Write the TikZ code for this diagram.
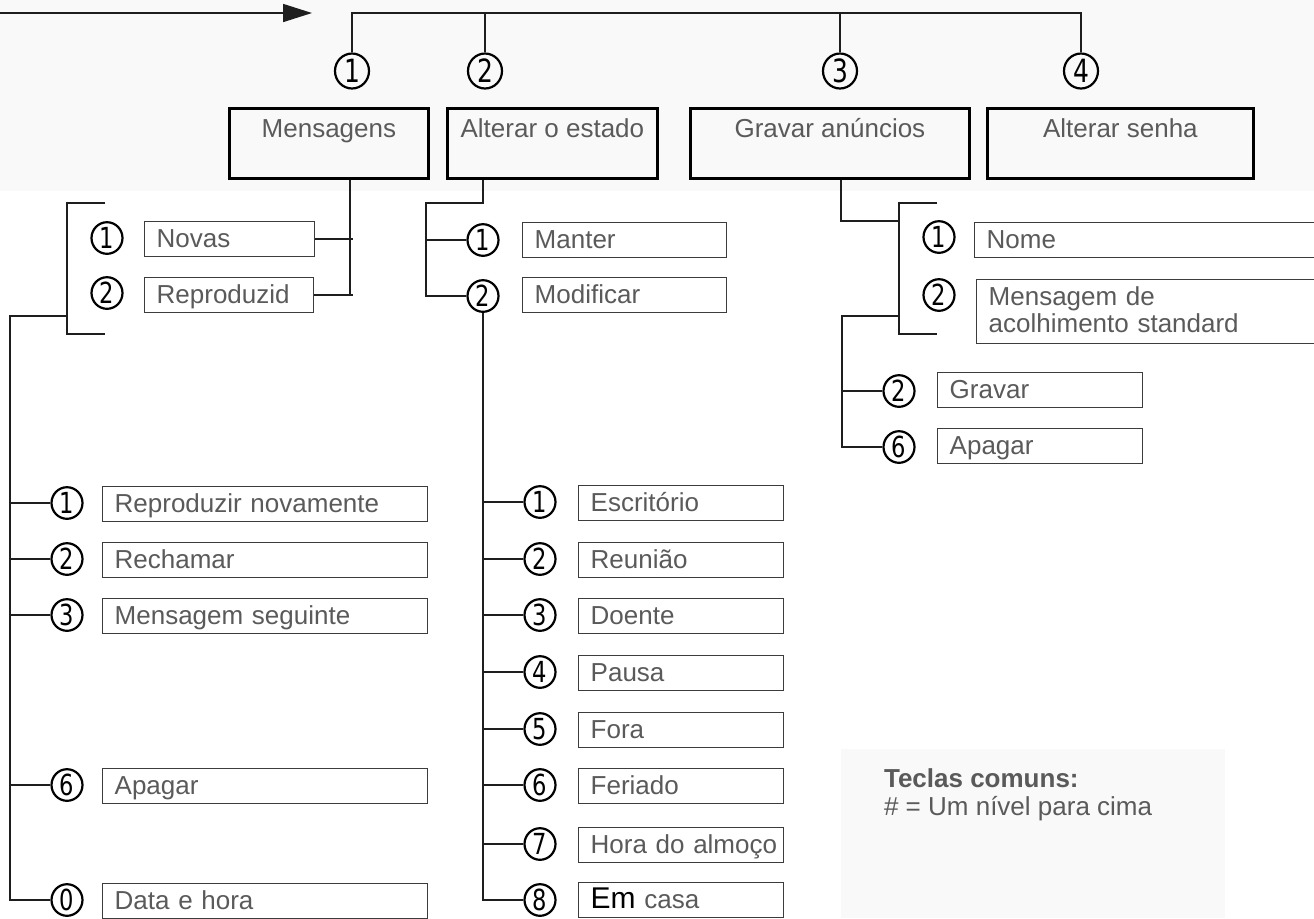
\documentclass[tikz,border=0pt]{standalone}
\usepackage{graphicx}
\usepackage{fontspec}
\setmainfont{Liberation Sans}
\newfontfamily\numfont{DejaVu Sans}
\usetikzlibrary{shapes.geometric,arrows.meta}
\definecolor{bandgray}{HTML}{F9F9F9}
\definecolor{txtgray}{HTML}{5A5A5A}
\definecolor{boxline}{HTML}{3C3C3C}
\definecolor{linec}{HTML}{1E1E1E}
\newcommand\dg[1]{\scalebox{0.78}[1]{#1}}
\begin{document}
\begin{tikzpicture}[x=0.5pt,y=-0.5pt,
  conn/.style={draw=linec,line width=0.8pt},
  topbox/.style={draw=black,line width=1.4pt,anchor=north west,inner xsep=0pt,inner ysep=0pt,
    minimum width=#1,text height=14.5pt,text depth=20.5pt,text=txtgray,font=\fontsize{13}{15}\selectfont},
  item/.style={draw=boxline,line width=0.7pt,anchor=north west,inner xsep=6pt,inner ysep=0pt,
    text width=#1,align=left,text height=13pt,text depth=4.5pt,text=txtgray,font=\fontsize{13}{13.5}\selectfont},
  num/.style={ellipse,draw=black,line width=1.1pt,minimum width=15.5pt,minimum height=15.8pt,
    inner sep=0pt,font=\numfont\fontsize{14.5}{14.5}\selectfont},
  bignum/.style={num,minimum width=17pt,minimum height=17.5pt,font=\numfont\fontsize{16}{16}\selectfont}]
\useasboundingbox (0,0) rectangle (1314,918);
\fill[white] (0,0) rectangle (1314,918);
\fill[bandgray] (0,0) rectangle (1314,191);
\fill[bandgray] (841,749) rectangle (1225,918);

% top arrow
\coordinate (as) at (0,13);
\coordinate (ae) at (312,13);
\draw[conn,-{Triangle[length=14.5pt,width=9pt]}] (as) -- (ae);

% top numbers
\node[bignum] (t1) at (352,71) {\dg{1}};
\node[bignum] (t2) at (485,71) {\dg{2}};
\node[bignum] (t3) at (840,71) {\dg{3}};
\node[bignum] (t4) at (1081,71) {\dg{4}};
\coordinate (tl) at (351,13);
\draw[conn] (t1.north) -- (t1.north |- tl) -- (t4.north |- tl) -- (t4.north);
\draw[conn] (t2.north |- tl) -- (t2.north);
\draw[conn] (t3.north |- tl) -- (t3.north);

% top boxes
\node[topbox=99.5pt] (m) at (228,107) {Mensagens};
\node[topbox=105pt] (a) at (446,107) {Alterar o estado};
\node[topbox=139.5pt] (g) at (689,107) {Gravar anúncios};
\node[topbox=133pt] (s) at (986,107) {Alterar senha};

% Mensagens submenu
\node[num] (n1) at (107,238) {\dg{1}};
\node[num] (n2) at (107,293) {\dg{2}};
\node[item=73pt] (nov) at (144,221) {Novas};
\node[item=72.5pt] (rep) at (144,277) {Reproduzid};
\coordinate (mx) at (350,0);
\coordinate (mx2) at (353,0);
\draw[conn] (mx |- m.south) -- (mx |- rep.east);
\draw[conn] (nov.east) -- (nov.east -| mx2);
\draw[conn] (rep.east) -- (rep.east -| mx2);

\coordinate (lbt) at (105,203);
\coordinate (lbtc) at (67,203);
\coordinate (lbb) at (67,334);
\coordinate (lbbe) at (105,334);
\draw[conn] (lbt) -- (lbtc) -- (lbb) -- (lbbe);
\coordinate (lj) at (67,316);
\coordinate (lx) at (10,316);

\node[num] (L1) at (67,503) {\dg{1}};
\node[num] (L2) at (67,559) {\dg{2}};
\node[num] (L3) at (67,615) {\dg{3}};
\node[num] (L6) at (67,785) {\dg{6}};
\node[num] (L0) at (67,900) {\dg{0}};
\node[item=150.5pt] (b1) at (102,486) {Reproduzir novamente};
\node[item=150.5pt] (b2) at (102,542) {Rechamar};
\node[item=150.5pt] (b3) at (102,598) {Mensagem seguinte};
\node[item=150.5pt] (b6) at (102,768) {Apagar};
\node[item=150.5pt] (b0) at (102,883) {Data e hora};
\draw[conn] (lj) -- (lx) |- (L0.west);
\foreach \n in {L1,L2,L3,L6} \draw[conn] (lx |- \n.west) -- (\n.west);

% Alterar o estado submenu
\node[num] (M1) at (483,240) {\dg{1}};
\node[num] (M2) at (483,296) {\dg{2}};
\node[item=90pt] (man) at (522,222) {Manter};
\node[item=90pt] (mod) at (522,277) {Modificar};
\coordinate (av) at (483,203);
\coordinate (ab) at (426,203);
\draw[conn] (av |- a.south) -- (av) -- (ab) |- (M2.west);
\draw[conn] (ab |- M1.west) -- (M1.west);

\node[num] (Q1) at (540,502) {\dg{1}};
\node[num] (Q2) at (540,559) {\dg{2}};
\node[num] (Q3) at (540,615) {\dg{3}};
\node[num] (Q4) at (540,672) {\dg{4}};
\node[num] (Q5) at (540,729) {\dg{5}};
\node[num] (Q6) at (540,785) {\dg{6}};
\node[num] (Q7) at (540,844) {\dg{7}};
\node[num] (Q8) at (540,900) {\dg{8}};
\node[item=90.5pt] (e1) at (578,485) {Escritório};
\node[item=90.5pt] (e2) at (578,542) {Reunião};
\node[item=90.5pt] (e3) at (578,598) {Doente};
\node[item=90.5pt] (e4) at (578,655) {Pausa};
\node[item=90.5pt] (e5) at (578,712) {Fora};
\node[item=90.5pt] (e6) at (578,768) {Feriado};
\node[item=90.5pt] (e7) at (578,827) {\mbox{Hora do almoço}};
\node[item=90.5pt] (e8) at (578,882) {{\color{black}\fontsize{15}{15}\selectfont Em} casa};
\draw[conn] (M2.south) |- (Q8.west);
\foreach \n in {Q1,Q2,Q3,Q4,Q5,Q6,Q7} \draw[conn] (M2.south |- \n.west) -- (\n.west);

% Gravar anúncios submenu
\node[num] (P1) at (939,237) {\dg{1}};
\node[num] (P2) at (939,295) {\dg{2}};
\node[item=161pt] (nome) at (974,222) {Nome};
\node[item=160pt,text depth=19pt,font=\fontsize{13}{13.5}\selectfont] (msg) at (976,279) {Mensagem de\\acolhimento standard};
\coordinate (gv) at (841,221);
\coordinate (gb) at (899,221);
\draw[conn] (gv |- g.south) -- (gv) -- (gb);
\coordinate (gbt) at (937,203);
\coordinate (gbtc) at (899,203);
\coordinate (gbb) at (899,334);
\coordinate (gbbe) at (937,334);
\draw[conn] (gbt) -- (gbtc) -- (gbb) -- (gbbe);
\coordinate (gj) at (899,316);
\coordinate (gx) at (842,316);
\node[num] (G2) at (899,391) {\dg{2}};
\node[num] (G6) at (899,447) {\dg{6}};
\node[item=90.5pt] (grv) at (937,372) {Gravar};
\node[item=90.5pt] (apg) at (937,428) {Apagar};
\draw[conn] (gj) -- (gx) |- (G6.west);
\draw[conn] (gx |- G2.west) -- (G2.west);

% common keys
\node[anchor=base west,text=txtgray,font=\bfseries\fontsize{13}{14}\selectfont] (tc) at (877,787) {Teclas comuns:};
\node[anchor=base west,text=txtgray,font=\fontsize{13}{14}\selectfont] (tn) at (877,815) {\# = Um nível para cima};
\end{tikzpicture}
\end{document}
